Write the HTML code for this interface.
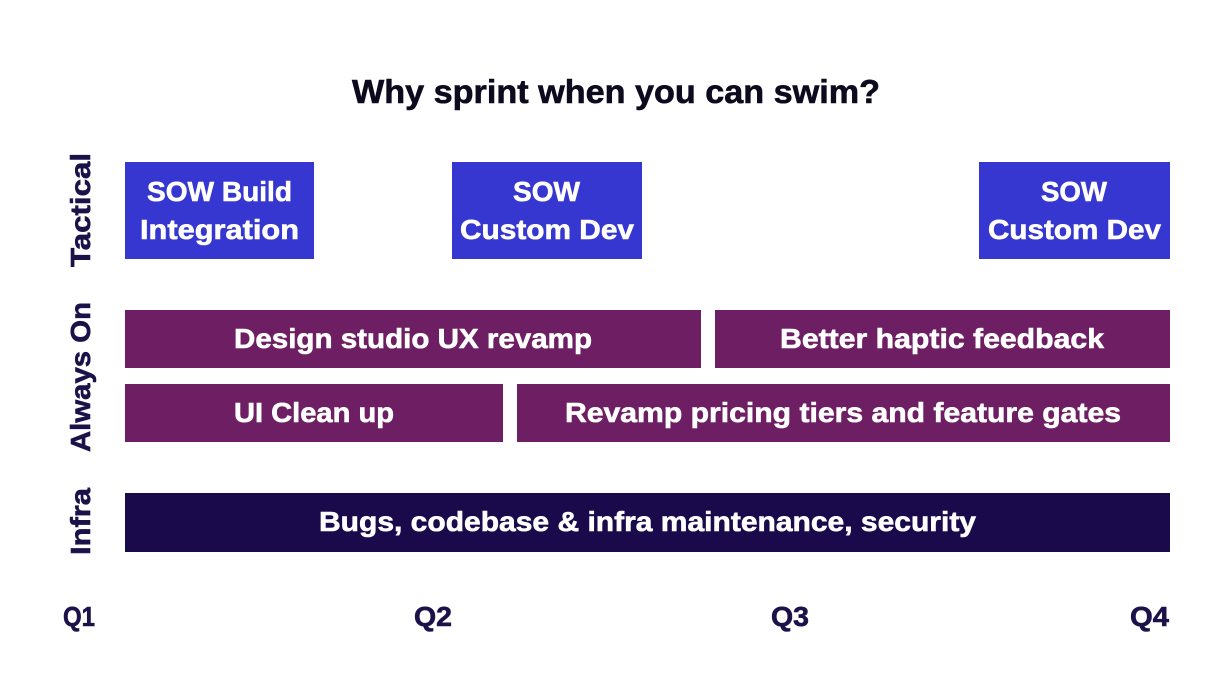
<!DOCTYPE html>
<html><head><style>html,body{margin:0;padding:0;background:#fff}svg{display:block}</style></head>
<body>
<svg width="1216" height="698" viewBox="0 0 1216 698" xmlns="http://www.w3.org/2000/svg" font-family="Liberation Sans, sans-serif" font-weight="bold">
<rect width="1216" height="698" fill="#fff"/>
<text x="352" y="103" font-size="33" fill="#0d0a1e" stroke="#0d0a1e" stroke-width="0.6" textLength="528" lengthAdjust="spacingAndGlyphs">Why sprint when you can swim?</text>
<g fill="#1c1249" stroke="#1c1249" stroke-width="0.6" font-size="28">
<text transform="translate(90,267) rotate(-90)" textLength="114" lengthAdjust="spacingAndGlyphs">Tactical</text>
<text transform="translate(90,452) rotate(-90)" textLength="150" lengthAdjust="spacingAndGlyphs">Always On</text>
<text transform="translate(90,555) rotate(-90)" textLength="67" lengthAdjust="spacingAndGlyphs">Infra</text>
<text x="63" y="626" textLength="32" lengthAdjust="spacingAndGlyphs">Q1</text>
<text x="414" y="626" textLength="38" lengthAdjust="spacingAndGlyphs">Q2</text>
<text x="771" y="626" textLength="38" lengthAdjust="spacingAndGlyphs">Q3</text>
<text x="1130" y="626" textLength="39" lengthAdjust="spacingAndGlyphs">Q4</text>
</g>
<rect x="125" y="162" width="189" height="97" fill="#3636d1"/>
<rect x="452" y="162" width="190" height="97" fill="#3636d1"/>
<rect x="979" y="162" width="191" height="97" fill="#3636d1"/>
<rect x="125" y="310" width="576" height="58" fill="#6e1f63"/>
<rect x="715" y="310" width="455" height="58" fill="#6e1f63"/>
<rect x="125" y="384" width="378" height="58" fill="#6e1f63"/>
<rect x="517" y="384" width="653" height="58" fill="#6e1f63"/>
<rect x="125" y="493" width="1045" height="59" fill="#1a0a4c"/>
<g fill="#fff" stroke="#fff" stroke-width="0.6" font-size="28">
<text x="147" y="201" textLength="145" lengthAdjust="spacingAndGlyphs">SOW Build</text>
<text x="140" y="239" textLength="159" lengthAdjust="spacingAndGlyphs">Integration</text>
<text x="513" y="201" textLength="67" lengthAdjust="spacingAndGlyphs">SOW</text>
<text x="460" y="239" textLength="174" lengthAdjust="spacingAndGlyphs">Custom Dev</text>
<text x="1041" y="201" textLength="66" lengthAdjust="spacingAndGlyphs">SOW</text>
<text x="988" y="239" textLength="173" lengthAdjust="spacingAndGlyphs">Custom Dev</text>
<text x="234" y="348" textLength="358" lengthAdjust="spacingAndGlyphs">Design studio UX revamp</text>
<text x="780" y="348" textLength="324" lengthAdjust="spacingAndGlyphs">Better haptic feedback</text>
<text x="234" y="422" textLength="160" lengthAdjust="spacingAndGlyphs">UI Clean up</text>
<text x="565" y="422" textLength="556" lengthAdjust="spacingAndGlyphs">Revamp pricing tiers and feature gates</text>
<text x="319" y="531" textLength="657" lengthAdjust="spacingAndGlyphs">Bugs, codebase &amp; infra maintenance, security</text>
</g>
</svg>
</body></html>
